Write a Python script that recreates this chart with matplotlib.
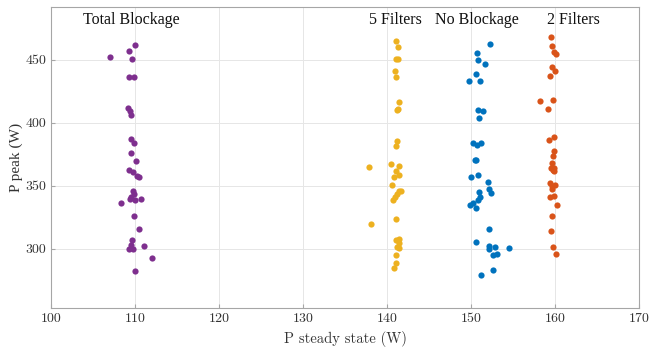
import numpy as np
import matplotlib
matplotlib.use("Agg")
import matplotlib.pyplot as plt

# P steady state / P peak samples for each configuration (W)
total_x = [110.0, 109.32, 107.02, 109.64, 109.32, 109.88, 109.2, 109.4, 109.52,
           109.52, 109.92, 109.49, 110.12, 109.32, 109.73, 110.2, 110.51, 109.73,
           109.92, 109.49, 109.4, 109.96, 108.37, 110.75, 109.88, 110.51, 109.61,
           109.49, 109.32, 109.8, 111.07, 111.99, 109.96]
total_y = [461.9, 457.4, 452.1, 450.8, 436.3, 436.3, 412.1, 409.0, 406.3,
           387.1, 383.9, 376.4, 369.8, 362.7, 360.9, 357.4, 356.6, 345.5,
           343.4, 341.5, 339.7, 338.9, 336.3, 339.7, 326.2, 315.6, 306.6,
           303.2, 299.8, 300.0, 302.4, 292.6, 282.3]

five_x = [141.07, 141.27, 141.07, 141.35, 140.99, 141.12, 141.46, 141.3, 141.22,
          141.15, 141.03, 137.9, 140.51, 141.43, 141.07, 140.87, 141.4, 140.63,
          141.46, 141.67, 141.15, 140.99, 140.75, 141.12, 138.13, 141.4, 141.07,
          141.43, 141.15, 141.4, 141.07, 141.03, 140.83]
five_y = [465.3, 460.1, 450.6, 450.6, 441.3, 436.3, 416.4, 411.3, 409.8,
          385.7, 382.0, 365.3, 367.5, 366.1, 361.9, 356.9, 358.7, 351.0,
          346.0, 346.0, 343.6, 341.5, 338.9, 323.8, 319.8, 307.7, 307.1,
          304.8, 301.8, 300.5, 295.0, 288.6, 284.4]

none_x = [152.26, 150.68, 150.8, 151.7, 150.63, 149.8, 151.07, 150.87, 151.46,
          150.95, 150.2, 150.68, 151.19, 150.48, 150.63, 150.04, 150.87, 152.02,
          152.14, 152.35, 150.9, 151.07, 150.87, 149.88, 150.2, 150.56, 152.18,
          150.6, 152.18, 152.14, 152.89, 152.65, 153.06, 154.49, 151.23, 152.65]
none_y = [462.9, 455.3, 450.0, 447.1, 438.7, 433.6, 433.6, 409.8, 409.0,
          404.2, 383.9, 382.5, 383.9, 370.6, 370.4, 356.9, 358.2, 353.4,
          347.4, 343.9, 345.0, 341.0, 338.9, 334.9, 336.3, 332.3, 315.6,
          305.0, 302.6, 299.8, 301.5, 294.7, 296.0, 301.0, 279.4, 283.0]

two_x = [159.49, 159.61, 159.85, 160.15, 159.64, 159.96, 159.44, 158.25, 159.73,
         159.2, 159.29, 159.92, 159.92, 159.73, 159.64, 159.49, 159.88, 159.73,
         159.92, 159.44, 159.68, 160.0, 159.64, 159.4, 159.92, 160.2, 159.61,
         159.49, 159.73, 160.12]
two_y = [468.0, 460.9, 456.1, 454.5, 444.7, 441.0, 437.1, 417.2, 418.0,
         410.9, 386.3, 388.9, 378.0, 373.8, 368.0, 364.5, 364.5, 362.7,
         361.9, 352.1, 350.2, 350.5, 347.6, 341.0, 341.8, 334.9, 326.2,
         314.3, 301.8, 296.0]

labels = ["Total Blockage", "5 Filters", "No Blockage", "2 Filters"]
label_x = [109.6, 141.0, 150.7, 162.2]
label_y = 481.5

fig = plt.figure(figsize=(6.49, 3.48), dpi=100)
ax = fig.add_axes([0.0786, 0.115, 0.906, 0.865])

ax.scatter(total_x, total_y, s=20, color="#7E2F8E", zorder=3, linewidths=0)
ax.scatter(five_x, five_y, s=20, color="#EDB120", zorder=3, linewidths=0)
ax.scatter(none_x, none_y, s=20, color="#0072BD", zorder=3, linewidths=0)
ax.scatter(two_x, two_y, s=20, color="#D95319", zorder=3, linewidths=0)

for txt, xx in zip(labels, label_x):
    ax.text(xx, label_y, txt, ha="center", va="center", fontsize=11.5,
            family="Liberation Serif", color="#111111")

ax.set_xlim(100, 170)
ax.set_ylim(253, 492)
ax.set_xticks(np.arange(100, 171, 10))
ax.set_yticks([300, 350, 400, 450])
ax.grid(True, color="#e6e6e6", linewidth=0.7)
ax.set_axisbelow(True)

for sp in ax.spines.values():
    sp.set_color("#a6a6a6")
    sp.set_linewidth(0.8)
ax.tick_params(direction="in", length=3, color="#a6a6a6", labelsize=10,
               labelcolor="#333333", top=False, right=False)
for lbl in ax.get_xticklabels() + ax.get_yticklabels():
    lbl.set_family("cmr10")

ax.set_xlabel("P steady state (W)", family="cmr10", fontsize=10.5, color="#333333")
ax.set_ylabel("P peak (W)", family="Liberation Serif", fontsize=11, color="#333333")
ax.yaxis.set_label_coords(-0.047, 0.5)

fig.savefig("out.png", dpi=100)
